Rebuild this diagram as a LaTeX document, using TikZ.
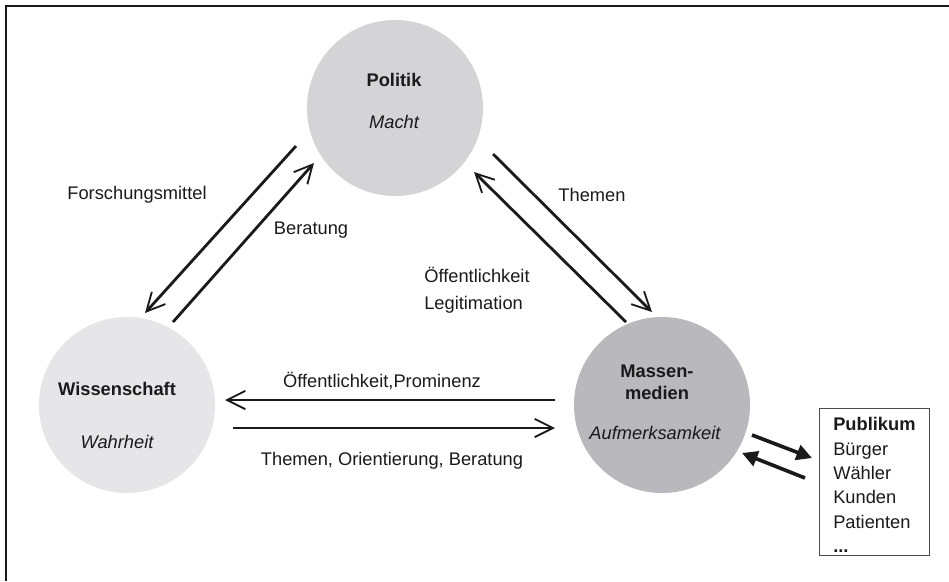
\documentclass[tikz,border=0pt]{standalone}
\usepackage{fontspec}
\setmainfont{Liberation Sans}
\usetikzlibrary{arrows.meta}

\begin{document}
\begin{tikzpicture}[x=0.025cm,y=-0.025cm]

\definecolor{polcolor}{HTML}{D4D4D6}
\definecolor{wiscolor}{HTML}{E6E6E8}
\definecolor{medcolor}{HTML}{B9B9BD}
\definecolor{lcolor}{HTML}{1A1A1A}

\tikzstyle{sphere}=[circle, minimum size=4.4cm, inner sep=0pt]
\tikzstyle{ltext}=[font=\fontsize{13}{17.4}\selectfont, text=lcolor, inner sep=0pt]
\tikzstyle{frame}=[line width=1.3pt, color=lcolor]
\tikzstyle{flow}=[line width=2pt, color=lcolor, -{Straight Barb[length=13pt,width=13pt,line width=1.3pt]}]
\tikzstyle{pflow}=[line width=2.6pt, color=lcolor, -{Triangle[length=11pt,width=11pt]}]
\tikzstyle{pubbox}=[draw=black!70, line width=0.8pt, inner sep=0pt]

\useasboundingbox (0,0) rectangle (949,581);

% frame
\draw[frame] (6,581) -- (6,6) -- (949,6);

% spheres
\node[sphere, fill=polcolor] (pol) at (395,108) {};
\node[sphere, fill=wiscolor] (wis) at (127,405) {};
\node[sphere, fill=medcolor] (med) at (662,405) {};

\node[ltext, font=\fontsize{13}{17.4}\selectfont\bfseries] (poltitle) at (394,80) {Politik};
\node[ltext, font=\fontsize{13}{17.4}\selectfont\itshape] (polcode) at (394,122) {Macht};
\node[ltext, font=\fontsize{13}{17.4}\selectfont\bfseries] (wistitle) at (117,389) {Wissenschaft};
\node[ltext, font=\fontsize{13}{17.4}\selectfont\itshape] (wiscode) at (117,442) {Wahrheit};
\node[ltext, font=\fontsize{13}{15.6}\selectfont\bfseries, align=center] (medtitle) at (657,382) {Massen-\\medien};
\node[ltext, font=\fontsize{13}{17.4}\selectfont\itshape] (medcode) at (655,433) {Aufmerksamkeit};

% publikum
\node[pubbox, anchor=north west, minimum width=2.75cm, minimum height=3.675cm] (pub) at (819,408) {};
\node[ltext, anchor=north west, align=left] (publist) at (833,417)
  {\textbf{Publikum}\\Bürger\\Wähler\\Kunden\\Patienten\\\textbf{...}};

% end points
\coordinate (pw1) at (296,146);
\coordinate (pw2) at (145,313);
\coordinate (wp1) at (173,322);
\coordinate (wp2) at (314,163);
\coordinate (pm1) at (493,154);
\coordinate (pm2) at (652,312);
\coordinate (mp1) at (626,322);
\coordinate (mp2) at (474,172);
\coordinate (mw1) at (555,400);
\coordinate (mw2) at (225,400);
\coordinate (wm1) at (233,428);
\coordinate (wm2) at (555,428);
\coordinate (mq1) at (752,435);
\coordinate (mq2) at (812,458);
\coordinate (qm1) at (805,478);
\coordinate (qm2) at (742,453);

% flows
\draw[flow] (pw1) -- (pw2);
\draw[flow] (wp1) -- (wp2);
\draw[flow] (pm1) -- (pm2);
\draw[flow] (mp1) -- (mp2);
\draw[flow] (mw1) -- (mw2);
\draw[flow] (wm1) -- (wm2);
\draw[pflow] (mq1) -- (mq2);
\draw[pflow] (qm1) -- (qm2);

% flow labels
\node[ltext] (forsch) at (137,195) {Forschungsmittel};
\node[ltext] (berat) at (311,230) {Beratung};
\node[ltext] (themen) at (592,195) {Themen};
\node[ltext, anchor=west] (oeff) at (424,275) {Öffentlichkeit};
\node[ltext, anchor=west] (legit) at (424,305) {Legitimation};
\node[ltext] (oeffprom) at (382,381) {Öffentlichkeit,Prominenz};
\node[ltext] (themor) at (392,461) {Themen, Orientierung, Beratung};

\end{tikzpicture}
\end{document}
